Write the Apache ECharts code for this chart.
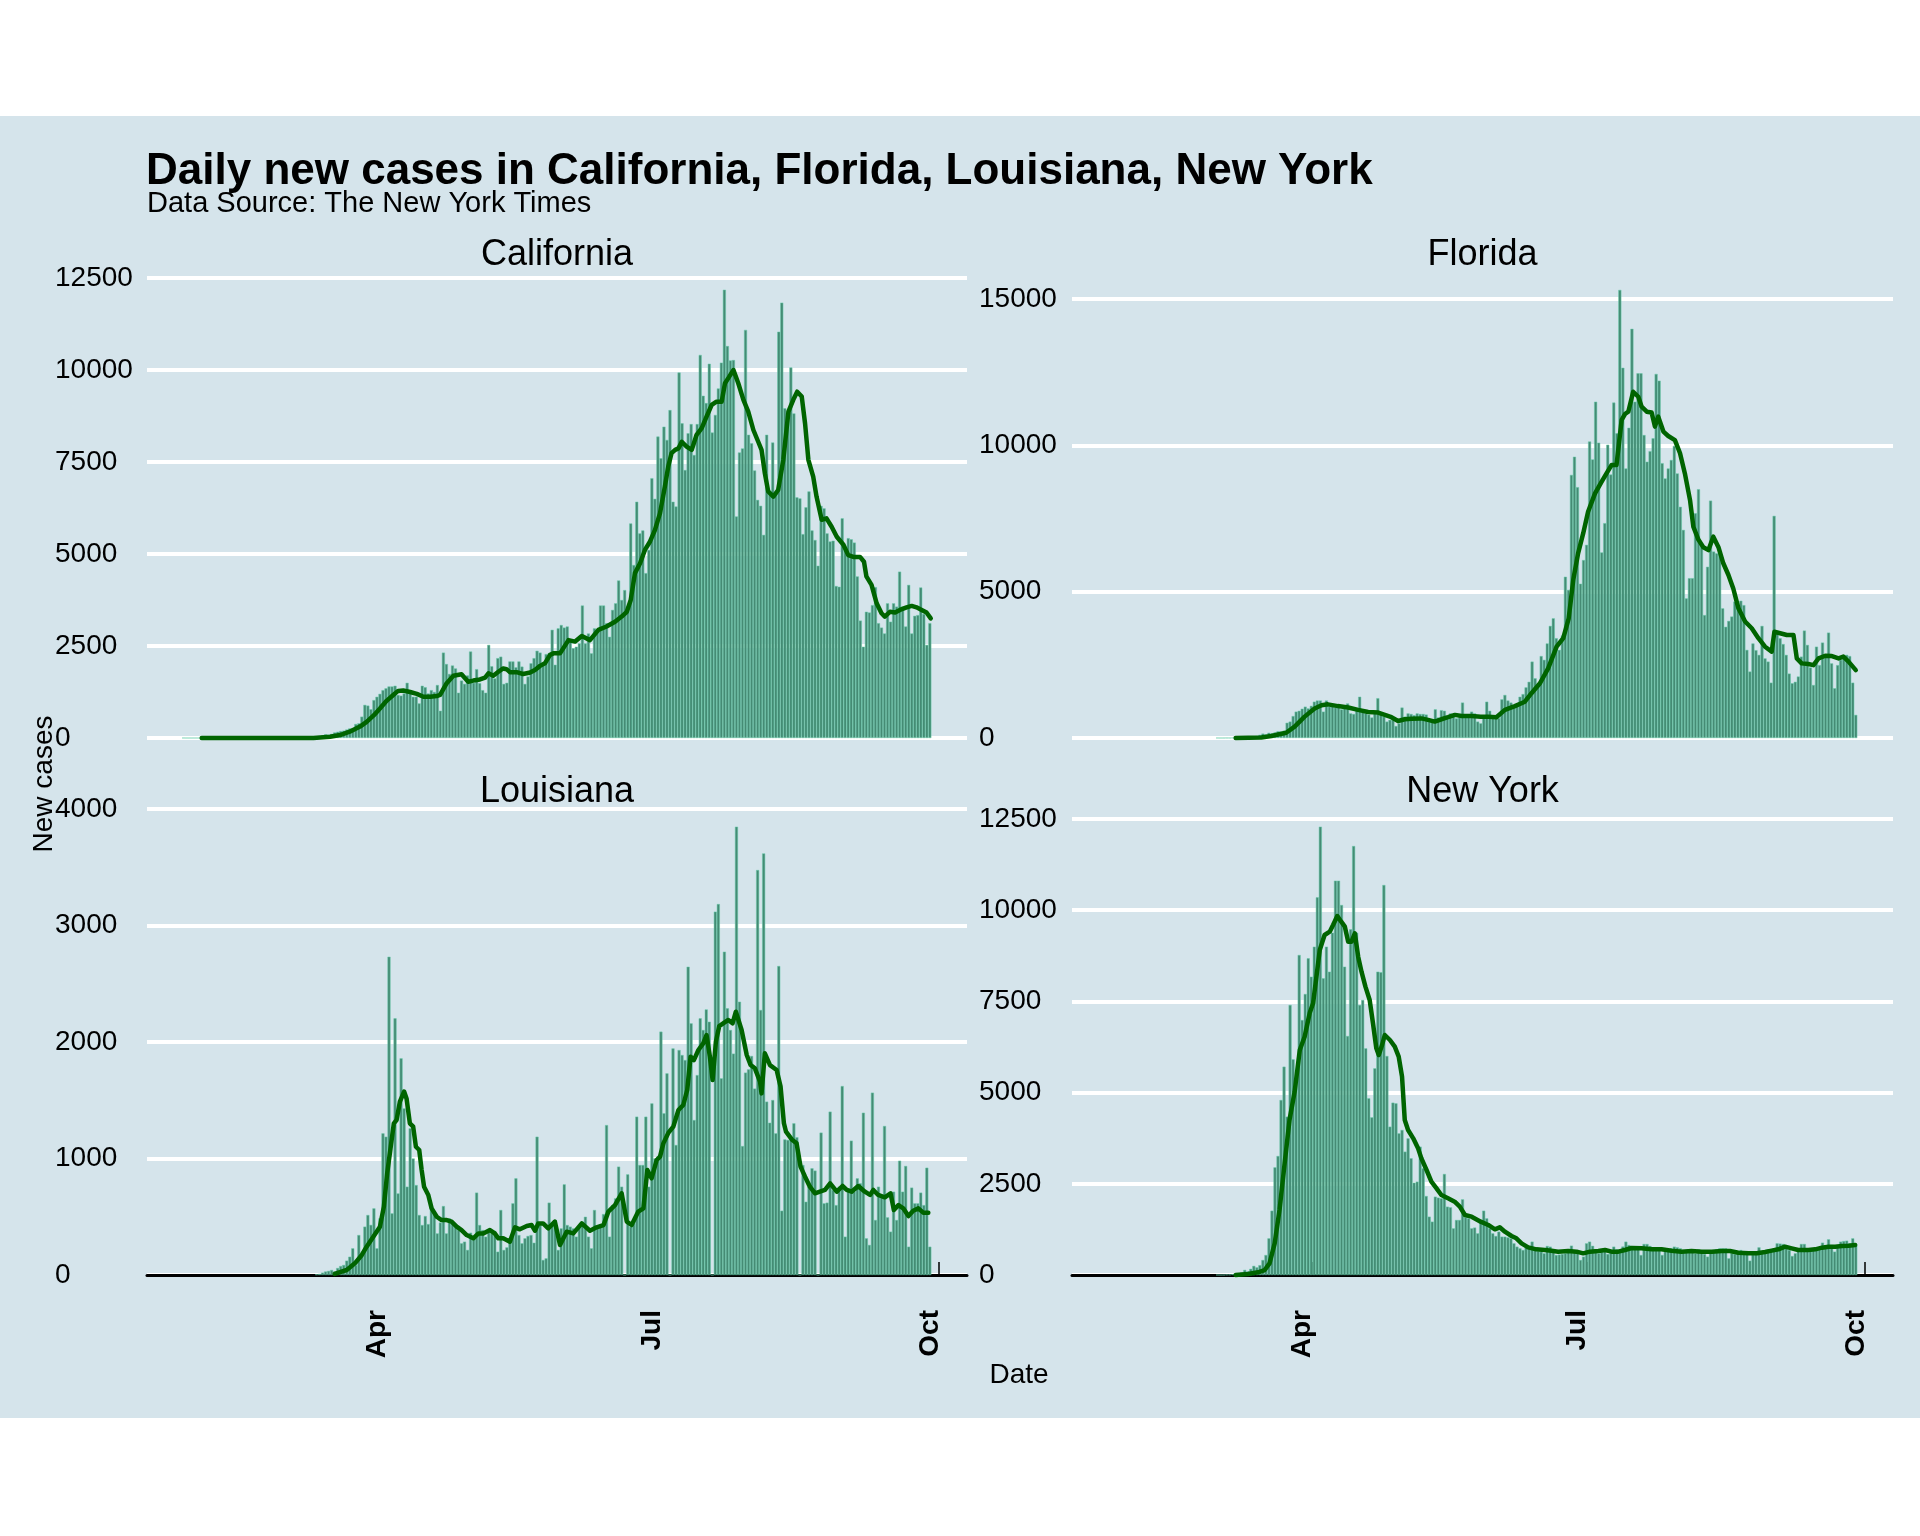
<!DOCTYPE html>
<html>
<head>
<meta charset="utf-8">
<title>Daily new cases</title>
<script src="https://cdn.jsdelivr.net/npm/echarts@6/dist/echarts.min.js"></script>
<style>
  html, body { margin: 0; padding: 0; background: #fff; }
  #chart { width: 1920px; height: 1536px; }
</style>
</head>
<body>
<div id="chart"></div>
<script>
// x values are day numbers counted from 1 Jan 2020 (Apr 1 = 91)
const monthTicks = [91, 182, 274]
const monthLabels = ['Apr', 'Jul', 'Oct']

const states = ['California', 'Florida', 'Louisiana', 'New York']
const yMax = [12500, 15000, 4000, 12500]
const yStep = [2500, 5000, 1000, 2500]

// daily new cases, first value is the day in *Start
const caStart = 24
const caCases = [
  1, 0, 0, 0, 0, 0, 1, 0, 0, 1,
  0, 0, 0, 0, 0, 0, 0, 1, 0, 0,
  0, 1, 0, 0, 0, 0, 1, 0, 0, 2,
  1, 2, 3, 2, 5, 6, 8, 10, 12, 15,
  20, 25, 30, 40, 45, 55, 70,
  100, 90, 110, 150, 170, 190, 200, 230, 260, 270,
  380, 400, 580, 900, 880, 780, 1030, 1120, 1200, 1300,
  1350, 1400, 1400, 1420, 1170, 1150, 1210, 1500, 1210, 1120,
  1120, 940, 1420, 1380, 1210, 1300, 1250, 1440, 740, 2320,
  2010, 1740, 1970, 1890, 1230, 1560, 1470, 1700, 2350, 1500,
  1870, 1490, 1300, 1230, 2530, 1950, 1620, 2170, 2210, 1470,
  1500, 2080, 2080, 1920, 2080, 1940, 1470, 1670, 2030, 2170,
  2370, 2320, 1980, 2280, 2300, 2940, 1990, 2980,
  3070, 3000, 3030, 2660, 2440, 2480, 2570, 3600, 2570, 2840,
  2300, 2980, 2940, 3600, 3600, 3120, 2750, 3480, 3660, 4280,
  3750, 4020, 3480, 5830, 4700, 6420, 5560, 5640, 4480, 5110,
  7060, 6500, 8190, 7600, 8460, 8100, 8910, 6420, 6290, 9930,
  8550, 7280, 8280, 8530, 7690, 8530, 10410, 9300, 9100, 10170,
  8300, 8780, 9500, 10200, 12180, 10650, 10260, 10270, 6020, 7760,
  7870, 11090, 8240, 8010, 7270, 6470, 6310, 5520, 8240, 6650,
  8030, 6650, 11040, 11830, 8960, 8820, 10070, 8820, 6540, 6510,
  5540, 6270, 6700, 5640, 5380, 4680, 6310, 6240, 5560, 5340,
  5360, 4130, 4110, 5970, 5110, 5430, 5400, 5310, 4390, 3190,
  2480, 3430, 3410, 3610, 4100, 3120, 3000, 2840, 3660, 3160,
  3660, 3570, 4520, 3570, 3030, 4160, 2840, 3320, 3340, 4090,
  3370, 2530, 3120
]
const flStart = 60
const flCases = [
  2, 0, 1, 3, 2, 8, 6, 10, 12, 21,
  30, 45, 50, 70, 110, 150, 120, 180, 160, 190,
  230, 220, 250, 520, 560, 750, 900, 930, 1000, 1070,
  1010, 1100, 1240, 1280, 1280, 900, 1280, 1070, 1100, 1040,
  1120, 980, 1060, 1180, 840, 820, 1000, 1410, 900, 850,
  800, 700, 900, 1360, 850, 730, 560, 620, 620, 410,
  500, 1040, 730, 840, 820, 780, 840, 820, 820, 800,
  560, 640, 980, 700, 950, 930, 750, 840, 820, 670,
  700, 1210, 700, 790, 900, 840, 560, 500, 730, 1240,
  930, 730, 730, 680, 1320, 1470, 1280, 1210, 1070, 1130,
  1410, 1500, 1730, 1920, 2610, 2040, 1750, 2800, 2670, 3230,
  3830, 4090, 3410, 3010, 3500, 5510, 5060, 8990, 9610, 8570,
  5270, 6080, 6600, 10130, 9520, 11490, 10090, 6340, 7340, 10020,
  9000, 11460, 10410, 15310, 12650, 9210, 10600, 13980, 11490, 12460,
  12460, 10350, 9440, 9800, 10240, 12440, 12210, 9390, 8870, 9210,
  9500, 9980, 9040, 7900, 7110, 4770, 5460, 5460, 7680, 8500,
  6650, 4200, 5850, 8110, 6370, 6310, 6370, 4430, 3800, 4000,
  4150, 4660, 4430, 4690, 4540, 3010, 2270, 3230, 3000, 2840,
  3830, 2720, 2610, 1890, 7590, 3580, 3410, 3210, 2840, 2200,
  1870, 1920, 2100, 2780, 3670, 3180, 2410, 1810, 3120, 2490,
  3260, 2780, 3600, 2550, 1700, 2490, 2670, 2800, 2840, 2800,
  1890, 790
]
const laStart = 68
const laCases = [
  5, 10, 20, 30, 35, 43, 30, 60, 77, 86,
  123, 157, 229, 86, 343, 172, 415, 515, 430, 572,
  229, 486, 1216, 1187, 2732, 529, 2203, 700, 1860, 1430,
  758, 1259, 1000, 772, 515, 429, 506, 437, 592, 529,
  357, 450, 592, 357, 486, 443, 415, 386, 272, 286,
  215, 363, 315, 707, 429, 386, 329, 372, 357, 380,
  200, 558, 215, 237, 295, 615, 830, 343, 272, 315,
  335, 343, 277, 1187, 429, 129, 143, 621, 443, 472,
  215, 400, 778, 429, 415, 400, 329, 420, 458, 500,
  329, 229, 558, 400, 437, 523, 1287, 329, 600, 658,
  930, 758, 0, 864, 415, 443, 1359, 944, 944, 1359,
  758, 1473, 1001, 1016, 2089, 1388, 1731, 0, 1945, 1116,
  1931, 1888, 1845, 2646, 2160, 1330, 1716, 2203, 2103, 2280,
  2174, 0, 3119, 3184, 1688, 2775, 2289, 2103, 1900, 3848,
  2346, 1107, 1737, 1765, 1880, 1600, 3476, 2275, 3619, 1488,
  1307, 1502, 1216, 2652, 552, 1164, 1159, 1164, 1302, 1182,
  0, 944, 629, 758, 916, 896, 0, 1222, 615, 621,
  1402, 730, 600, 758, 1622, 329, 744, 1153, 715, 830,
  787, 1393, 315, 258, 1565, 472, 758, 672, 1279, 495,
  372, 715, 472, 981, 715, 936, 243, 750, 615, 615,
  707, 600, 921, 243
]
const nyStart = 60
const nyCases = [
  1, 0, 1, 9, 11, 22, 45, 30, 70, 140,
  100, 170, 250, 210, 270, 411, 548, 1005, 1763, 2951,
  3262, 4797, 5711, 4340, 7401, 5912, 5254, 8772, 6990, 7703,
  8681, 8178, 9000, 10352, 12289, 8132, 9000, 8315, 9384, 10809,
  10809, 10142, 8452, 6551, 9475, 11759, 9384, 7401, 7538, 6213,
  4843, 4322, 5665, 8315, 8300, 10690, 6003, 4066, 4724, 4706,
  3883, 3975, 3381, 3746, 3200, 2531, 2558, 3518, 2924, 2165,
  1599, 1462, 2147, 2120, 2102, 2769, 1873, 1855, 1279, 1508,
  1508, 2074, 1581, 1553, 1279, 1300, 1142, 1508, 1763, 1553,
  1279, 1142, 1069, 1188, 1051, 1051, 1030, 1005, 868, 777,
  731, 685, 758, 800, 914, 685, 658, 640, 594, 795,
  777, 640, 548, 560, 576, 594, 704, 804, 640, 612,
  411, 503, 868, 914, 800, 704, 594, 640, 685, 576,
  640, 777, 704, 640, 780, 914, 822, 758, 731, 731,
  548, 850, 850, 795, 758, 720, 685, 548, 704, 685,
  731, 777, 758, 731, 612, 685, 660, 640, 594, 704,
  667, 576, 503, 640, 685, 704, 731, 730, 731, 457,
  594, 576, 640, 685, 594, 594, 393, 560, 576, 758,
  612, 612, 704, 667, 731, 868, 860, 850, 777, 685,
  521, 594, 731, 850, 850, 731, 685, 700, 700, 758,
  886, 795, 978, 822, 640, 777, 914, 930, 941, 868,
  1005, 822
]

// 7 day average, [day, cases]
const caAverage = [
  [30, 0], [67, 0], [72.5, 36], [75.8, 80], [79, 170], [82.4, 310], [84.6, 440], [87, 620],
  [89, 800], [91.2, 1010], [93.4, 1170], [95, 1280], [96.7, 1290], [99, 1250], [101.2, 1200],
  [103.4, 1120], [105.6, 1120], [107.8, 1140], [108.9, 1170], [111.1, 1490], [113.3, 1690],
  [116, 1730], [118.2, 1530], [119.9, 1560], [122.1, 1590], [123.8, 1640], [124.9, 1760],
  [126.5, 1690], [128.2, 1800], [129.8, 1890], [130.9, 1870], [132, 1790], [134.2, 1790],
  [136.4, 1740], [138.7, 1780], [140.3, 1850], [142, 1960], [143.6, 2030], [145.3, 2260],
  [146.4, 2300], [148.6, 2300], [151.4, 2660], [153.6, 2620], [155.8, 2770], [158.5, 2660],
  [161.3, 2940], [164, 3030], [166.8, 3160], [169, 3300], [170.7, 3430], [172, 3750],
  [173.4, 4480], [175.1, 4750], [176.7, 5110], [178.4, 5340], [180, 5650], [181.7, 6110],
  [183.3, 6830], [184.4, 7370], [185.5, 7740], [186.7, 7830], [187.8, 7870], [188.9, 8050],
  [190.5, 7920], [192.2, 7830], [193.8, 8240], [195.5, 8420], [197.1, 8730], [198.8, 9050],
  [200.4, 9140], [202.1, 9140], [203.2, 9640], [204.3, 9780], [206, 10000], [207.6, 9640],
  [209.3, 9190], [210.9, 8870], [212.6, 8370], [214.2, 8050], [215.3, 7830], [216.4, 7190],
  [217.5, 6700], [219.2, 6560], [220.8, 6740], [222.5, 7560], [224.2, 8870], [225.8, 9190],
  [227.1, 9410], [228.6, 9280], [229.7, 8550], [230.8, 7560], [232.4, 7100], [233.5, 6560],
  [235.2, 5930], [236.8, 5970], [238.5, 5740], [240.2, 5470], [242.4, 5250], [244, 4970],
  [245.7, 4920], [247.9, 4920], [249.2, 4790], [250, 4390], [251.7, 4160], [253.4, 3660],
  [255, 3390], [256.1, 3300], [257.8, 3430], [259.5, 3410], [261.1, 3480], [263.3, 3550],
  [265, 3590], [266.6, 3550], [268.3, 3480], [269.9, 3410], [271.3, 3250]
]
const flAverage = [
  [66, 0], [74.5, 20], [77.8, 70], [82.7, 180], [85.5, 390], [88.8, 730], [92.1, 1010],
  [94.4, 1120], [96.5, 1150], [99.8, 1090], [103.2, 1040], [106.5, 960], [109.8, 890],
  [113.1, 870], [115.3, 790], [117.5, 710], [119.7, 580], [121.9, 640], [124.1, 660],
  [127.4, 670], [129.6, 620], [131.8, 560], [134, 640], [136.2, 710], [138.5, 790],
  [140.7, 750], [144, 750], [147, 730], [149.5, 730], [152.2, 710], [155, 960], [158.3, 1090],
  [161.6, 1240], [163.8, 1530], [166.6, 1870], [169.3, 2380], [172.1, 3120], [174.3, 3410],
  [176.1, 4090], [177.6, 5400], [179.2, 6310], [180.9, 7000], [182.5, 7730], [184.8, 8360],
  [187, 8760], [188.6, 9040], [190.3, 9330], [191.9, 9330], [193.6, 10870], [194.7, 11070],
  [195.8, 11150], [197.4, 11830], [199.1, 11660], [200.2, 11320], [201.9, 11150],
  [203.5, 11120], [204.6, 10640], [205.7, 10980], [207.4, 10470], [209, 10320],
  [211.2, 10180], [212.9, 9730], [214.5, 9040], [216.2, 8130], [217.3, 7220], [219, 6770],
  [220.6, 6520], [222.3, 6420], [223.9, 6880], [225.6, 6520], [227.2, 5970], [228.9, 5570],
  [230.5, 5110], [232.2, 4430], [234.4, 3980], [236.6, 3750], [238.8, 3410], [241, 3120],
  [243.2, 2950], [244.1, 3630], [246, 3580], [248.2, 3520], [250.4, 3520], [251.5, 2720],
  [253.1, 2550], [255.3, 2530], [257, 2490], [258.7, 2720], [260.9, 2810], [263.1, 2800],
  [265.3, 2720], [266.9, 2780], [268.6, 2610], [271, 2320]
]
const laAverage = [
  [74, 10], [78, 43], [80.7, 100], [83, 172], [84.6, 243], [86.8, 329], [89, 415],
  [90.3, 587], [91.4, 873], [92.5, 1087], [93.6, 1302], [94.5, 1330], [95.6, 1488],
  [97, 1574], [97.8, 1516], [98.9, 1302], [100, 1273], [100.9, 1101], [102, 1073],
  [102.8, 901], [103.6, 758], [105, 687], [106.1, 572], [107.8, 500], [109.4, 472],
  [111.1, 472], [112.7, 458], [114.4, 415], [116, 386], [117.7, 343], [119.9, 315],
  [121.6, 357], [123.2, 357], [125.4, 386], [127, 357], [128.2, 315], [129.8, 315],
  [132, 286], [133.7, 409], [135.3, 392], [137.6, 420], [139.2, 429], [140.3, 380],
  [141.4, 443], [143, 443], [144.7, 400], [146.9, 458], [148.6, 258], [150.8, 372],
  [153, 357], [155.8, 443], [158.5, 380], [160.7, 409], [163, 429], [164.6, 544],
  [166.8, 600], [169, 701], [170.7, 458], [172.3, 429], [174.5, 544], [176.2, 572],
  [177.5, 901], [178.9, 830], [180.6, 987], [181.7, 1016], [182.8, 1130], [184.5, 1222],
  [186.1, 1273], [187.8, 1416], [189.4, 1459], [190.7, 1588], [191.8, 1874], [192.9, 1845],
  [194.4, 1931], [196, 1988], [197.1, 2060], [198.2, 1874], [199.1, 1674], [200.2, 2003],
  [201.3, 2137], [202.6, 2160], [204.3, 2189], [205.7, 2160], [206.8, 2260], [208.7, 2103],
  [210.4, 1888], [211.7, 1802], [213.1, 1774], [214.8, 1659], [215.3, 1559], [216.4, 1903],
  [218.1, 1802], [220.3, 1760], [221.6, 1617], [222.7, 1302], [223.4, 1230], [225.3, 1164],
  [226.9, 1130], [228.2, 930], [229.7, 844], [231.3, 758], [233, 701], [234.6, 715],
  [236.3, 730], [238, 787], [240.2, 715], [242.1, 764], [243.5, 730], [245.1, 715],
  [247.3, 764], [249.5, 715], [251.2, 687], [252.3, 730], [253.9, 687], [256.1, 667],
  [258, 701], [259.1, 558], [260.6, 600], [262.2, 572], [263.9, 506], [265.5, 552],
  [267.2, 572], [268.8, 535], [270.5, 535]
]
const nyAverage = [
  [66, 0], [70.1, 27], [73.4, 73], [75.6, 137], [77.2, 320], [78.9, 868], [80.5, 1782],
  [82.2, 3061], [83.8, 4249], [85.5, 5025], [87.2, 6167], [88.8, 6533], [90.5, 7191],
  [91.6, 7447], [92.7, 8178], [93.8, 8909], [95.4, 9320], [97.1, 9411], [98.2, 9594],
  [99.6, 9841], [100.9, 9685], [102.1, 9548], [103.2, 9137], [104.3, 9137], [105.4, 9365],
  [106.5, 8726], [107.6, 8315], [108.9, 7904], [110.3, 7538], [111.4, 6898], [112.5, 6213],
  [113.3, 6030], [114.4, 6304], [115.3, 6579], [117, 6442], [118.6, 6259], [119.9, 5985],
  [121, 5437], [121.9, 4249], [123, 3975], [124.7, 3746], [126.3, 3472], [127.4, 3198],
  [129.1, 2878], [130.7, 2558], [132.4, 2376], [134, 2193], [136.2, 2102], [138.4, 2010],
  [140.1, 1873], [141.8, 1645], [144, 1599], [147, 1462], [149.5, 1371], [151.7, 1252],
  [153.3, 1307], [155, 1188], [157.2, 1069], [158.8, 1005], [160.5, 868], [162.7, 758],
  [165.4, 704], [168.2, 685], [170.4, 667], [172.6, 640], [175.9, 658], [178.7, 640],
  [180.9, 594], [183.1, 640], [185.9, 658], [188.1, 685], [190.3, 640], [192.5, 640],
  [194.7, 685], [196.9, 740], [200.2, 731], [203.5, 704], [206.8, 704], [210.1, 667],
  [213.4, 640], [216.7, 658], [220.1, 640], [223.4, 640], [226.7, 658], [229.4, 658],
  [232.2, 612], [235.5, 594], [238.3, 594], [241, 630], [243.2, 667], [245.4, 704],
  [247.6, 777], [249.8, 731], [252, 685], [255.3, 685], [257.6, 704], [259.8, 749],
  [262, 777], [264.2, 777], [266.4, 795], [268.6, 804], [270.8, 822]
]

const fontFamily = '"Liberation Sans", Arial, sans-serif'
const dayMin = 11.9
const dayMax = 283.3

const grids = [
  { left: 147, top: 278, width: 820, height: 460 },
  { left: 1072, top: 299, width: 821, height: 439 },
  { left: 147, top: 809, width: 820, height: 466 },
  { left: 1072, top: 819, width: 821, height: 456 }
]

function toBars (start, values) {
  return values.map((v, i) => [start + i, v])
}

const caseData = [
  toBars(caStart, caCases),
  toBars(flStart, flCases),
  toBars(laStart, laCases),
  toBars(nyStart, nyCases)
]
const averageData = [caAverage, flAverage, laAverage, nyAverage]

const xAxes = grids.map((g, i) => {
  const bottom = i >= 2
  return {
    gridIndex: i,
    type: 'value',
    min: dayMin,
    max: dayMax,
    show: bottom,
    offset: 22,
    axisLine: { show: bottom, lineStyle: { color: '#000', width: 3 } },
    axisTick: {
      show: bottom,
      inside: true,
      length: 13,
      customValues: monthTicks,
      lineStyle: { color: '#000', width: 1.5 }
    },
    axisLabel: {
      show: bottom,
      customValues: monthTicks,
      formatter: v => monthLabels[monthTicks.indexOf(v)] || '',
      rotate: 90,
      margin: 13,
      verticalAlign: 'bottom',
      lineHeight: 18,
      color: '#000',
      fontSize: 28,
      fontWeight: 'bold',
      fontFamily: fontFamily
    },
    splitLine: { show: false }
  }
})

const yAxes = grids.map((g, i) => ({
  gridIndex: i,
  type: 'value',
  min: 0,
  max: yMax[i],
  interval: yStep[i],
  axisLine: { show: false },
  axisTick: { show: false },
  axisLabel: {
    align: 'left',
    margin: i % 2 === 0 ? 92 : 93,
    formatter: v => String(v),
    color: '#000',
    fontSize: 28,
    fontFamily: fontFamily
  },
  splitLine: { lineStyle: { color: '#ffffff', width: 4 } }
}))

const series = []
grids.forEach((g, i) => {
  series.push({
    type: 'bar',
    xAxisIndex: i,
    yAxisIndex: i,
    data: caseData[i],
    barWidth: 3,
    clip: false,
    itemStyle: { color: '#458B74', borderColor: '#66CDAA', borderWidth: 0.5 },
    z: 2
  })
  series.push({
    type: 'line',
    xAxisIndex: i,
    yAxisIndex: i,
    data: averageData[i],
    showSymbol: false,
    clip: false,
    lineStyle: { color: '#006400', width: 4.5, join: 'round', cap: 'round' },
    z: 3
  })
})

// strip titles above each panel
const stripTitles = states.map((name, i) => ({
  type: 'text',
  x: grids[i].left + grids[i].width / 2,
  y: i < 2 ? 255 : 792,
  style: {
    text: name,
    fill: '#000',
    fontSize: 36,
    fontFamily: fontFamily,
    align: 'center',
    verticalAlign: 'middle'
  }
}))

const chart = echarts.init(document.getElementById('chart'))
chart.setOption({
  animation: false,
  backgroundColor: '#ffffff',
  grid: grids,
  xAxis: xAxes,
  yAxis: yAxes,
  series: series,
  graphic: [
    {
      type: 'rect',
      z: -10,
      silent: true,
      shape: { x: 0, y: 116, width: 1920, height: 1302 },
      style: { fill: '#d5e4eb' }
    },
    {
      type: 'text',
      x: 146,
      y: 172,
      style: {
        text: 'Daily new cases in California, Florida, Louisiana, New York',
        fill: '#000',
        fontSize: 44,
        fontWeight: 'bold',
        fontFamily: fontFamily,
        verticalAlign: 'middle'
      }
    },
    {
      type: 'text',
      x: 147,
      y: 204,
      style: {
        text: 'Data Source: The New York Times',
        fill: '#000',
        fontSize: 29,
        fontFamily: fontFamily,
        verticalAlign: 'middle'
      }
    },
    ...stripTitles,
    {
      type: 'text',
      x: 44,
      y: 784,
      rotation: Math.PI / 2,
      style: {
        text: 'New cases',
        fill: '#000',
        fontSize: 28,
        fontFamily: fontFamily,
        align: 'center',
        verticalAlign: 'middle'
      }
    },
    {
      type: 'text',
      x: 1019,
      y: 1375,
      style: {
        text: 'Date',
        fill: '#000',
        fontSize: 28,
        fontFamily: fontFamily,
        align: 'center',
        verticalAlign: 'middle'
      }
    }
  ]
})
</script>
</body>
</html>
